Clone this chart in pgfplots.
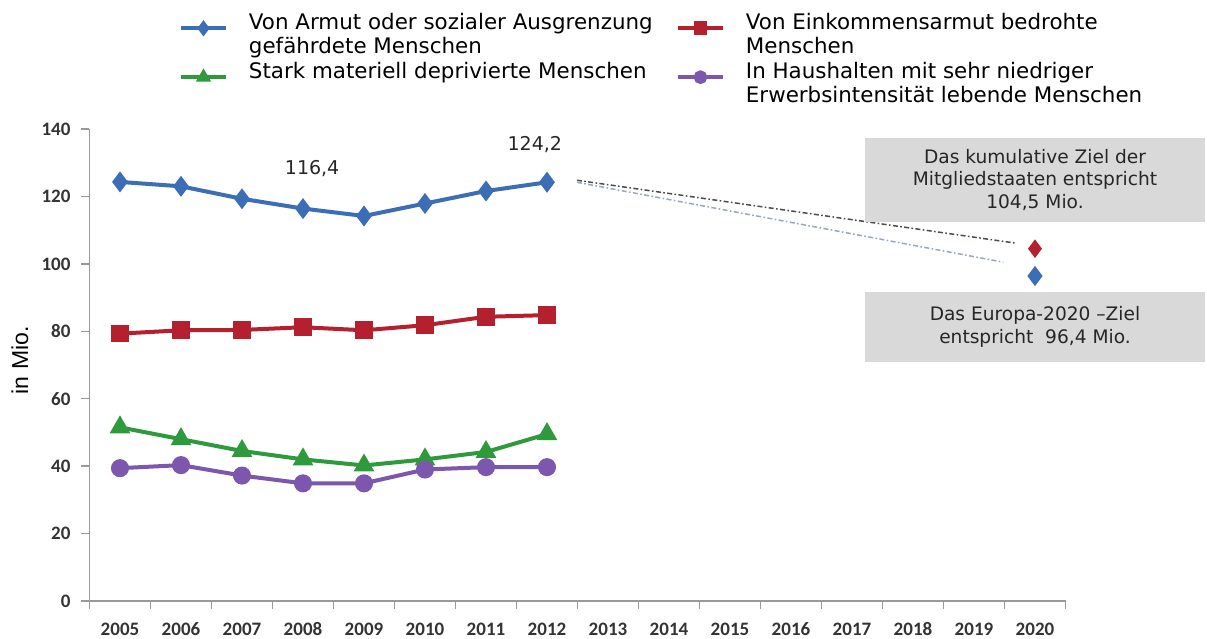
\documentclass[border=0pt]{standalone}
\usepackage{pgfplots}
\pgfplotsset{compat=1.18}
\usepackage{fontspec}
\setmainfont{DejaVu Sans}
\newfontfamily\tickfont{Carlito}
\newfontfamily\arialfont{Liberation Sans}
\definecolor{cblue}{HTML}{3C6EB8}
\definecolor{cred}{HTML}{B5202E}
\definecolor{cgreen}{HTML}{2E9A3C}
\definecolor{cpurple}{HTML}{7D56AE}
\definecolor{boxgray}{HTML}{D9D9D9}
\definecolor{axgray}{HTML}{9A9A9A}
\newcommand{\legone}[2]{\hbox to #1{\vrule height 9bp depth 3.5bp width 0pt #2\hfil}}
\begin{document}
\begin{tikzpicture}
\path[use as bounding box] (-44.75bp,-19bp) rectangle (558.75bp,300.5bp);
\begin{axis}[
  at={(0,0)}, anchor=south west,
  scale only axis,
  width=488bp, height=236bp,
  xmin=-0.5, xmax=15.5, ymin=0, ymax=140,
  axis x line*=bottom, axis y line*=left,
  axis line style={axgray, line width=0.7bp, -},
  xtick={-0.5,0.5,...,15.5}, xticklabels={},
  extra x ticks={0,...,15},
  extra x tick labels={2005,2006,2007,2008,2009,2010,2011,2012,2013,2014,2015,2016,2017,2018,2019,2020},
  extra x tick style={major tick length=0pt},
  ytick={0,20,...,140},
  tick align=outside, major tick length=4bp,
  tick style={axgray, line width=0.7bp},
  /pgf/number format/assume math mode=true,
  ticklabel style={font=\tickfont\bfseries\fontsize{9.5bp}{11bp}\selectfont, text=black!80},
  yticklabel style={xshift=-2bp},
  xticklabel style={yshift=-7bp, text height=6.6bp, text depth=0pt},
  ylabel={in Mio.},
  ylabel style={font=\arialfont\fontsize{11.5bp}{13bp}\selectfont, at={(axis description cs:-0.0712,0.51)}, anchor=center},
  clip=false,
  legend columns=2,
  legend style={draw=none, fill=none, inner sep=0pt, outer sep=0pt,
    at={(axis description cs:0.0917,1.2574)}, anchor=north west,
    font=\fontsize{10.7bp}{12.5bp}\selectfont,
    cells={anchor=base west, inner sep=0pt},
    row sep=-2.25bp, column sep=0pt,
    /tikz/every odd column/.append style={column sep=8.5bp}},
  legend image code/.code={\draw[mark repeat=2,mark phase=2,#1,mark size=2.4bp] plot coordinates {(0bp,0.6bp) (11.25bp,0.6bp) (22.5bp,0.6bp)};},
  every axis plot/.append style={line width=2bp, mark options={solid}},
]
\addplot[color=cblue, mark=diamond*, mark size=3.6bp] coordinates {
 (0,124.3) (1,123.0) (2,119.3) (3,116.4) (4,114.2) (5,117.9) (6,121.6) (7,124.2)};
\addlegendentry{\legone{211.5bp}{Von Armut oder sozialer Ausgrenzung}}
\addplot[color=cred, mark=square*, mark size=3.4bp] coordinates {
 (0,79.3) (1,80.3) (2,80.4) (3,81.2) (4,80.3) (5,81.8) (6,84.3) (7,84.8)};
\addlegendentry{\legone{200bp}{Von Einkommensarmut bedrohte}}
\addlegendimage{empty legend}
\addlegendentry{\legone{211.5bp}{gefährdete Menschen}}
\addlegendimage{empty legend}
\addlegendentry{\legone{200bp}{Menschen}}
\addplot[color=cgreen, mark=triangle*, mark size=4bp] coordinates {
 (0,51.5) (1,48.0) (2,44.5) (3,42.0) (4,40.2) (5,42.0) (6,44.2) (7,49.5)};
\addlegendentry{\legone{211.5bp}{Stark materiell deprivierte Menschen}}
\addplot[color=cpurple, mark=*, mark size=3.5bp] coordinates {
 (0,39.4) (1,40.3) (2,37.2) (3,34.9) (4,34.9) (5,39.0) (6,39.7) (7,39.7)};
\addlegendentry{\legone{200bp}{In Haushalten mit sehr niedriger}}
\addlegendimage{empty legend}
\addlegendentry{\legone{211.5bp}{}}
\addlegendimage{empty legend}
\addlegendentry{\legone{200bp}{Erwerbsintensität lebende Menschen}}
% trend lines to target
\addplot[color=black!70, line width=0.75bp, dash pattern=on 2.5bp off 1.2bp on 0.8bp off 1.2bp, forget plot] coordinates {(7.49,124.8) (14.70,106.1)};
\addplot[color=cblue!45!gray!65, line width=0.75bp, dash pattern=on 2.5bp off 1.2bp on 0.8bp off 1.2bp, forget plot] coordinates {(7.49,124.2) (14.48,100.5)};
% targets
\addplot[only marks, mark=diamond*, mark size=3bp, color=cred, forget plot] coordinates {(15,104.5)};
\addplot[only marks, mark=diamond*, mark size=3.4bp, color=cblue, forget plot] coordinates {(15,96.4)};
% labels
\node[font=\fontsize{9.5bp}{11bp}\selectfont, text=black!85] at (axis cs:3.15,128.4) {116,4};
\node[font=\fontsize{9.5bp}{11bp}\selectfont, text=black!85] at (axis cs:6.8,135.3) {124,2};
\node[fill=boxgray, minimum width=170bp, minimum height=42bp, align=center, inner sep=0pt,
  font=\fontsize{9.3bp}{11.25bp}\selectfont, text=black!85] at (axis cs:15,124.9)
  {Das kumulative Ziel der\\Mitgliedstaaten entspricht\\104,5 Mio.};
\node[fill=boxgray, minimum width=170bp, minimum height=35bp, align=center, inner sep=0pt,
  font=\fontsize{9.3bp}{11.25bp}\selectfont, text=black!85] at (axis cs:15,81.3)
  {Das Europa-2020 –Ziel\\entspricht\ \ 96,4 Mio.};
\end{axis}
\end{tikzpicture}
\end{document}
